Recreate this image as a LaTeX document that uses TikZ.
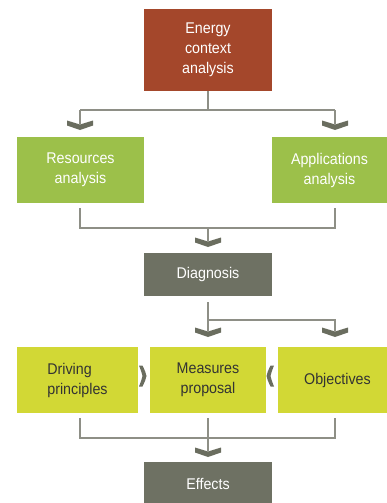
\documentclass[tikz,border=0pt]{standalone}
\usepackage{fontspec}
\usetikzlibrary{calc}
\setmainfont[FakeStretch=0.92]{Liberation Sans}
\definecolor{rust}{HTML}{A4472B}
\definecolor{leaf}{HTML}{9CC04A}
\definecolor{olivegray}{HTML}{6E7163}
\definecolor{lime}{HTML}{D2D835}
\definecolor{linegray}{HTML}{8E8F86}
\definecolor{chevgray}{HTML}{6A6D5F}
\begin{document}
\begin{tikzpicture}[x=1pt,y=-1pt,
  box/.style={rectangle, inner sep=0pt, text=white, align=center,
    font=\fontsize{15.5}{20}\selectfont},
  conn/.style={draw=linegray, line width=1.3pt},
  vdown/.pic={\fill[chevgray] (-13,-0.5) .. controls (-6,1.5) .. (0,3.5) .. controls (6,1.5) .. (13,-0.5) -- (13,4.5) .. controls (6,6.5) .. (0,9) .. controls (-6,6.5) .. (-13,4.5) -- cycle;},
  pright/.pic={\fill[chevgray] (0,-10.5) .. controls (2.5,-4) .. (3.5,0) .. controls (2.5,4) .. (0,10.5) -- (3.5,10.5) .. controls (6.5,4) .. (7.5,0) .. controls (6.5,-4) .. (3.5,-10.5) -- cycle;},
  pleft/.pic={\fill[chevgray] (7.5,-10.5) .. controls (5,-4) .. (4,0) .. controls (5,4) .. (7.5,10.5) -- (4,10.5) .. controls (1,4) .. (0,0) .. controls (1,-4) .. (4,-10.5) -- cycle;}
]
\useasboundingbox (0,0) rectangle (387,503);

% boxes
\node[box, fill=rust, minimum width=128pt, minimum height=82pt] (energy) at (208,50) {Energy\\context\\analysis};
\node[box, fill=leaf, minimum width=127pt, minimum height=66pt] (res) at (80.5,170) {Resources\\analysis};
\node[box, fill=leaf, minimum width=127pt, minimum height=66pt] (app) at (335.5,170) {\hspace*{-12pt}Applications\\\hspace*{-12pt}analysis};
\node[box, fill=olivegray, minimum width=128pt, minimum height=43pt] (diag) at (208,274.5) {Diagnosis};
\node[box, fill=lime, text=black!80, minimum width=121pt, minimum height=66pt, align=left] (drv) at (77.5,380) {Driving\\principles};
\node[box, fill=lime, text=black!80, minimum width=116pt, minimum height=66pt] (meas) at (208,380) {Measures\\proposal};
\node[box, fill=lime, text=black!80, minimum width=121pt, minimum height=66pt] (obj) at (338.5,380) {\hspace*{-2pt}Objectives};
\node[box, fill=olivegray, minimum width=128pt, minimum height=43pt] (eff) at (208,483.5) {Effects};

% junction coordinates
\coordinate (j1) at (208,110);
\coordinate (j1l) at (80,110);
\coordinate (j1r) at (335,110);
\coordinate (c1) at (80,121);
\coordinate (c2) at (335,121);
\coordinate (r1) at (80,208);
\coordinate (r2) at (335,208);
\coordinate (j2l) at (80,228);
\coordinate (j2r) at (335,228);
\coordinate (j2) at (208,228);
\coordinate (c3) at (208,238);
\coordinate (d1) at (208,302);
\coordinate (j3) at (208,320);
\coordinate (j3r) at (335,320);
\coordinate (c4) at (208,328);
\coordinate (c5) at (335,328);
\coordinate (s1) at (80,418);
\coordinate (s2) at (208,418);
\coordinate (s3) at (335,418);
\coordinate (j4l) at (80,438);
\coordinate (j4r) at (335,438);
\coordinate (j4) at (208,438);
\coordinate (c6) at (208,448);

% connectors
\draw[conn] (energy.south) -- (j1);
\draw[conn] (j1l) -- (j1r);
\draw[conn] (j1l) -- ($(c1)+(0,3)$);
\draw[conn] (j1r) -- ($(c2)+(0,3)$);

\draw[conn] (r1) -- (j2l) -- (j2r) -- (r2);
\draw[conn] (j2) -- ($(c3)+(0,3)$);

\draw[conn] (d1) -- ($(c4)+(0,3)$);
\draw[conn] (j3) -- (j3r) -- ($(c5)+(0,3)$);

\draw[conn] (s1) -- (j4l) -- (j4r) -- (s3);
\draw[conn] (s2) -- ($(c6)+(0,3)$);

% chevrons
\pic at (c1) {vdown};
\pic at (c2) {vdown};
\pic at (c3) {vdown};
\pic at (c4) {vdown};
\pic at (c5) {vdown};
\pic at (c6) {vdown};
\pic at (139,376) {pright};
\pic at (266.5,376) {pleft};
\end{tikzpicture}
\end{document}
